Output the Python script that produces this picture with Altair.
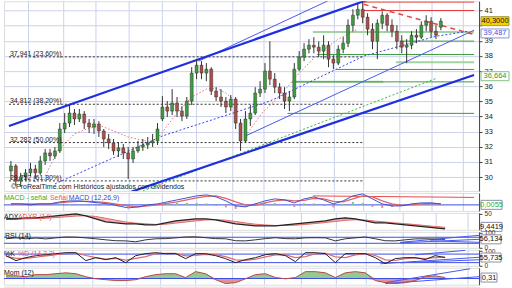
import altair as alt
import pandas as pd

# ---------------- price data (one candle per slot) ----------------
opens = [30.41, 30.74, 29.75, 30.02, 30.28, 30.54, 30.28, 31.07, 31.60, 31.40,
         31.73, 33.18, 33.57, 34.23, 33.84, 34.17, 33.57, 33.31, 33.51, 33.05,
         32.52, 32.26, 31.73, 31.93, 31.60, 31.20, 31.73, 31.99, 32.12, 32.26,
         32.39, 33.84, 34.63, 34.36, 34.89, 34.36, 34.03, 35.02, 36.87, 37.39,
         36.87, 37.13, 35.68, 35.29, 35.02, 34.63, 35.15, 33.57, 32.39, 33.84,
         34.23, 35.55, 35.81, 37.00, 36.47, 35.94, 35.55, 35.02, 35.29, 37.13,
         37.92, 38.45, 38.71, 38.58, 38.32, 38.71, 37.79, 37.53, 38.45, 38.84,
         40.03, 40.69, 41.08, 40.56, 39.77, 38.97, 40.16, 40.69, 40.03, 39.63,
         38.97, 38.58, 38.71, 39.37, 39.24, 40.03, 40.29, 39.63, 39.90]
closes = [30.74, 29.75, 30.02, 30.28, 30.54, 30.28, 31.07, 31.60, 31.40, 31.73,
          33.18, 33.57, 34.23, 33.84, 34.17, 33.57, 33.31, 33.51, 33.05, 32.52,
          32.26, 31.73, 31.93, 31.60, 31.20, 31.73, 31.99, 32.12, 32.26, 32.39,
          33.18, 34.63, 34.36, 34.89, 34.36, 34.03, 35.02, 36.87, 37.39, 36.87,
          37.13, 35.68, 35.29, 35.02, 34.63, 35.15, 33.57, 32.39, 33.84, 34.23,
          35.55, 35.81, 37.00, 36.47, 35.94, 35.55, 35.02, 35.29, 37.13, 37.92,
          38.45, 38.71, 38.58, 38.32, 38.71, 37.79, 37.53, 38.45, 38.84, 40.03,
          40.69, 41.08, 40.56, 39.77, 38.97, 40.16, 40.69, 40.03, 39.63, 38.97,
          38.58, 38.71, 39.37, 39.24, 40.03, 40.29, 39.63, 39.37, 40.30]
highs = [31.07, 30.87, 30.28, 30.54, 30.94, 30.81, 31.40, 31.86, 31.86, 31.99,
         33.57, 34.23, 34.76, 34.50, 34.50, 34.36, 33.84, 33.84, 33.70, 33.18,
         32.85, 32.52, 32.32, 32.19, 31.99, 31.99, 32.39, 32.52, 32.65, 32.85,
         33.57, 35.35, 35.02, 35.81, 35.29, 34.69, 35.29, 37.26, 37.79, 37.66,
         37.53, 37.26, 35.94, 35.81, 35.29, 35.42, 35.29, 33.84, 34.36, 34.76,
         35.94, 36.34, 37.53, 38.97, 36.87, 36.21, 35.94, 35.68, 37.53, 38.32,
         38.84, 39.11, 39.24, 38.97, 39.37, 38.97, 38.05, 38.71, 39.24, 40.42,
         41.08, 41.48, 41.60, 40.82, 40.16, 40.42, 40.95, 40.82, 40.42, 40.03,
         39.37, 39.11, 39.63, 39.77, 40.29, 40.69, 40.56, 40.03, 40.50]
lows = [29.88, 29.42, 29.36, 29.75, 30.08, 29.88, 30.15, 30.81, 31.07, 31.20,
        31.60, 32.91, 33.31, 33.44, 33.64, 33.18, 32.91, 32.85, 32.65, 31.99,
        31.86, 31.47, 31.33, 31.20, 29.88, 30.94, 31.60, 31.73, 31.86, 31.99,
        32.12, 33.70, 33.97, 34.10, 33.97, 33.70, 33.84, 34.76, 36.47, 36.47,
        36.34, 35.42, 35.02, 34.63, 34.23, 34.36, 33.18, 31.73, 32.26, 33.38,
        34.10, 35.29, 35.55, 36.08, 35.55, 35.15, 34.50, 34.36, 35.15, 37.00,
        37.66, 38.18, 38.18, 37.92, 37.79, 37.26, 37.13, 37.39, 38.18, 38.58,
        39.63, 40.42, 40.16, 39.37, 38.45, 37.79, 39.77, 39.63, 39.24, 38.45,
        38.18, 37.53, 38.45, 38.84, 39.11, 39.63, 39.24, 39.11, 39.70]

month_lines = [3.6, 10.8, 17.4, 24.2, 31.0, 38.0, 45.4, 51.8, 59.2, 66.2, 72.2, 79.6, 86.2, 92.6]
price_ticks = [30, 31, 32, 33, 34, 35, 36, 37, 38, 39, 40, 41]

fib_levels = [37.941, 34.812, 32.282, 29.752]
fib_labels = ["37,941 (23,60%)", "34,812 (38,20%)", "32,282 (50,00%)", "29,752 (61,80%)"]
fib_start, fib_end = -0.4, 72.2

# straight drawn lines: [x0, price0, x1, price1]
blue_thick = [[-0.4, 33.38, 83.8, 42.93], [24.6, 29.03, 94.8, 36.74]]
blue_thin = [[38.4, 37.66, 67.0, 41.96], [48.0, 32.72, 94.8, 39.70]]
green_dotted = [[27.0, 29.09, 87.2, 36.54]]
red_dashed = [[72.2, 41.41, 94.6, 39.44]]
red_flat = [[72.2, 41.00, 94.8, 41.00], [72.2, 41.56, 94.8, 41.56]]
green_light = [[61.8, 39.59, 94.8, 39.59], [78.8, 37.59, 94.8, 37.59], [57.6, 36.29, 76.2, 36.29]]
green_solid = [[79.6, 38.98, 94.8, 38.98], [62.8, 38.10, 94.8, 38.10], [66.6, 37.11, 94.8, 37.11],
               [57.6, 36.29, 94.8, 36.29], [56.6, 34.21, 94.8, 34.21]]

# dotted curves
blue_curve_x = [9.0, 31.0, 53.0, 72.2, 87.0, 93.6]
blue_curve_p = [29.55, 32.72, 35.02, 37.99, 39.30, 39.63]
red_arc_a_x = [7.0, 9.6, 13.0, 16.0, 18.4, 21.0, 24.0, 27.6]
red_arc_a_p = [30.08, 31.73, 32.85, 33.24, 33.38, 33.05, 32.65, 32.39]
red_arc_b_x = [30.4, 34.0, 37.0, 40.0, 42.0, 44.0, 46.0]
red_arc_b_p = [32.72, 34.23, 35.29, 35.81, 35.88, 35.55, 35.02]
red_arc_c_x = [48.0, 51.4, 55.0, 59.0, 63.0, 67.0, 71.0]
red_arc_c_p = [32.72, 34.23, 35.35, 36.87, 38.18, 39.11, 39.77]

# ---------------- indicator data (every second slot) ----------------
macd = [0.1, 0.1, 0, 0.1, 0.1, 0.3, 0.4, 0.4, 0.3, 0.2,
        0.1, -0.1, -0.3, -0.2, 0, 0.1, 0.3, 0.5, 0.7, 0.9,
        1.0, 0.8, 0.4, -0.1, -0.2, 0.1, 0.4, 0.6, 0.5, 0.2,
        0.6, 0.8, 0.5, 0.1, 0.4, 0.9, 1.1, 0.6, 0.1, -0.1,
        -0.1, 0.1, 0.2, 0.2, 0.1]
signal = [0.1, 0.1, 0.1, 0.1, 0.1, 0.2, 0.3, 0.35, 0.35, 0.3,
          0.2, 0.05, -0.1, -0.2, -0.1, 0, 0.15, 0.3, 0.5, 0.7,
          0.85, 0.9, 0.65, 0.3, 0, -0.05, 0.2, 0.4, 0.5, 0.4,
          0.45, 0.65, 0.6, 0.35, 0.3, 0.6, 0.9, 0.8, 0.4, 0.1,
          -0.05, 0, 0.1, 0.15, 0.1]
adx = [36.5, 36.5, 39.2, 39.2, 41.9, 44.6, 47.3, 50, 44.6, 36.5,
       28.4, 25.7, 23, 23, 20.3, 20.3, 25.7, 31.1, 33.8, 36.5,
       36.5, 33.8, 28.4, 23, 20.3, 17.6, 17.6, 17.6, 20.3, 23,
       25.7, 28.4, 31.1, 36.5, 39.2, 36.5, 31.1, 25.7, 25.7, 23,
       20.3, 17.6, 14.9, 12.2, 9.44]
adxr = [35, 35.5, 36.5, 37.5, 38.5, 40, 42, 44, 45, 43,
        38, 33, 28, 25, 23, 21.5, 22, 25, 28, 31,
        33.5, 34.5, 33, 29.5, 25.5, 22, 20, 18.5, 18.5, 19.5,
        21.5, 24, 26.5, 29.5, 32.5, 34, 33.5, 30.5, 28, 25.5,
        23.5, 21, 18.5, 16, 13.5]
rsi = [60, 66, 60, 65, 59, 66, 72, 71, 66, 60,
       53, 47, 46, 40, 53, 60, 61, 66, 72, 73,
       67, 61, 60, 47, 46, 53, 61, 67, 61, 60,
       66, 67, 66, 46, 60, 66, 72, 60, 47, 46,
       53, 59, 60, 58, 56.1]
stoch_k = [69, 34, 55, 69, 76, 83, 90, 90, 34, 55,
           41, 55, 20, 69, 83, 90, 83, 83, 48, 83,
           83, 69, 48, 20, 41, 55, 76, 83, 69, 27,
           90, 90, 83, 20, 83, 83, 83, 55, 13, 48,
           55, 55, 41, 69, 55.7]
stoch_d = [65, 50, 50, 58, 68, 76, 84, 88, 70, 55,
           45, 50, 38, 50, 62, 82, 86, 85, 68, 70,
           78, 76, 62, 40, 36, 44, 60, 74, 74, 55,
           62, 82, 86, 60, 55, 74, 83, 70, 40, 35,
           48, 54, 48, 55, 58]
mom = [0.9, 0.9, 0.6, 1.3, 1.3, 1.6, 1.9, 1.6, 0.6, -0.1,
       -0.4, -0.7, -0.7, -0.4, 0.6, 1.3, 1.6, 1.6, 0.3, 2.3,
       1.6, -0.4, -1.7, -1.4, -0.1, 1.3, 1.6, 0.3, -0.1, 0.3,
       2.3, 2.3, 1.9, 0.3, 1.9, 2.3, 1.9, -0.7, -1.4, -1.7,
       -1.4, -0.7, 0.6, 0.9, 0.31]

macd_red_line = [[61.8, 0.9, 94.8, 0.75]]
rsi_trend = [[79.0, 36.4, 94.8, 82.8], [79.0, 33.1, 94.8, 56.3], [85.0, 46.4, 94.8, 36.4]]
k_trend = [[75.0, 12.0, 94.8, 57.5], [82.0, 75.0, 92.0, 106.0], [79.0, 19.0, 94.8, 40.0]]
mom_trend = [[76.0, -1.4, 93.0, 3.27], [76.0, -1.73, 94.8, 0.6]]

# ---------------- styling constants ----------------
FONT = "Liberation Sans"
GRID = "#cbd2ea"
BLUE = "#1f2fe0"
REFBLUE = "#3b4de6"
XDOM = [-0.4, 94.8]
W = 476


def xq(field):
    return alt.X(f"{field}:Q", scale=alt.Scale(domain=XDOM, nice=False, zero=False), axis=None, title=None)


def seg_df(rows):
    return pd.DataFrame(rows, columns=["x0", "y0", "x1", "y1"])


candles = pd.DataFrame({"i": list(range(len(opens))), "o": opens, "h": highs, "l": lows, "c": closes})
candles["up"] = candles["c"] >= candles["o"]
months = pd.DataFrame({"m": month_lines})

# ---------------- main price panel ----------------
YS = alt.Scale(domain=[29.09, 41.61], nice=False, zero=False)
YAX = alt.Axis(orient="right", values=price_ticks, grid=True, gridColor=GRID, labelFontSize=7.5,
               labelColor="#222", labelFont=FONT, tickSize=3, tickColor="#444", domainColor="#444",
               labelPadding=2, title=None,
               labelExpr="datum.value == 40 ? '' : datum.label")


def ym(field):
    return alt.Y(f"{field}:Q", scale=YS, axis=YAX, title=None)


def rules(rows, yfun, **mk):
    return alt.Chart(seg_df(rows)).mark_rule(clip=True, **mk).encode(
        x=xq("x0"), x2="x1:Q", y=yfun("y0"), y2="y1:Q")


vgrid = alt.Chart(months).mark_rule(color=GRID, strokeWidth=1).encode(x=xq("m"))

fib = pd.DataFrame({"lvl": fib_levels, "lab": fib_labels, "x0": fib_start, "x1": fib_end})
fib_rules = alt.Chart(fib).mark_rule(color="#333", strokeDash=[2, 2], strokeWidth=1).encode(
    x=xq("x0"), x2="x1:Q", y=ym("lvl"))
fib_text = alt.Chart(fib).mark_text(align="left", baseline="alphabetic", fontSize=7, font=FONT,
                                    color="#222", dx=1, dy=-1).encode(x=xq("x0"), y=ym("lvl"), text="lab:N")

curves = []
for k, (xs, ps) in enumerate([(red_arc_a_x, red_arc_a_p), (red_arc_b_x, red_arc_b_p), (red_arc_c_x, red_arc_c_p)]):
    for a, b in zip(xs, ps):
        curves.append({"seg": k, "x": a, "p": b})
red_curves = alt.Chart(pd.DataFrame(curves)).mark_line(
    clip=True, color="#e47070", strokeDash=[1.5, 2], strokeWidth=1).encode(
    x=xq("x"), y=ym("p"), detail="seg:N")
blue_curve = alt.Chart(pd.DataFrame({"x": blue_curve_x, "p": blue_curve_p})).mark_line(
    clip=True, color="#3444ee", strokeDash=[2, 2], strokeWidth=1).encode(x=xq("x"), y=ym("p"))

wicks = alt.Chart(candles).mark_rule(color="#333", strokeWidth=1).encode(x=xq("i"), y=ym("l"), y2="h:Q")
bodies = alt.Chart(candles).mark_bar(size=3, orient="vertical", stroke="#1e1e1e", strokeWidth=0.4).encode(
    x=xq("i"), y=ym("o"), y2="c:Q",
    fill=alt.Fill("up:N", scale=alt.Scale(domain=[True, False], range=["#3e9c3e", "#a8504c"]), legend=None))

copyright_text = alt.Chart(pd.DataFrame({"t": ["©ProRealTime.com Históricos ajustados con dividendos"]})).mark_text(
    align="left", baseline="middle", fontSize=7, font=FONT, color="#222").encode(
    x=alt.value(7), y=alt.value(186), text="t:N")

main_boxes = pd.DataFrame({
    "v": [40.30, 39.487, 36.664],
    "t": ["40,3000", "39,487", "36,664"],
    "bg": ["#f4d000", "#ffffff", "#ffffff"],
    "bd": ["#a89a40", "#8c96c8", "#86c086"],
    "fg": ["#111111", "#3c55d8", "#2f9a2f"],
})
BW, BH = 28, 9
box_shape = f"M-1,{-BH / BW:.3f}H1V{BH / BW:.3f}H-1Z"
main_box_bg = alt.Chart(main_boxes).mark_point(shape=box_shape, size=BW * BW, filled=True, opacity=1,
                                               strokeWidth=1).encode(
    x=alt.value(492), y=ym("v"), fill=alt.Fill("bg:N", scale=None), stroke=alt.Stroke("bd:N", scale=None))
main_box_txt = alt.Chart(main_boxes).mark_text(fontSize=7.5, font=FONT, align="center", baseline="middle").encode(
    x=alt.value(492), y=ym("v"), text="t:N", color=alt.Color("fg:N", scale=None))

main = alt.layer(
    vgrid,
    fib_rules,
    rules(green_light, ym, color="#a3d3a3", strokeWidth=2),
    rules(green_solid, ym, color="#3c9c3c", strokeWidth=1),
    rules(red_flat, ym, color="#e03a3a", strokeWidth=1),
    rules(green_dotted, ym, color="#33b833", strokeDash=[2, 2], strokeWidth=1),
    blue_curve,
    red_curves,
    rules(blue_thin, ym, color="#4858f0", strokeWidth=1),
    rules(blue_thick, ym, color=BLUE, strokeWidth=2.2),
    rules(red_dashed, ym, color="#e04848", strokeDash=[5, 4], strokeWidth=1.5),
    wicks,
    bodies,
    fib_text,
    copyright_text,
    main_box_bg,
    main_box_txt,
).properties(width=W, height=190)

# ---------------- indicator panels ----------------
ind = pd.DataFrame({"i": [2 * k for k in range(len(macd))], "macd": macd, "sig": signal, "adx": adx,
                    "adxr": adxr, "rsi": rsi, "k": stoch_k, "d": stoch_d, "mom": mom})
ind["hist"] = ind["macd"] - ind["sig"]
ind["hpos"] = ind["hist"] >= 0
ind["mpos"] = ind["mom"].clip(lower=0)
ind["mneg"] = ind["mom"].clip(upper=0)


def panel_y(domain, values):
    sc = alt.Scale(domain=domain, nice=False, zero=False)
    ax = alt.Axis(orient="right", values=values, grid=False, labelFontSize=6.5, labelFont=FONT, labelColor="#333",
                  tickSize=3, tickColor="#444", domainColor="#444", labelPadding=2, title=None,
                  labelOverlap=False)

    def f(field):
        return alt.Y(f"{field}:Q", scale=sc, axis=ax, title=None)
    return f


def hline(yf, vals, color=REFBLUE):
    return alt.Chart(pd.DataFrame({"h": vals})).mark_rule(color=color, strokeWidth=1).encode(y=yf("h"))


def legend(items, ypx):
    layers = []
    for txt, col, xpx in items:
        layers.append(alt.Chart(pd.DataFrame({"t": [txt]})).mark_text(
            align="left", baseline="middle", fontSize=7, font=FONT, color=col).encode(
            x=alt.value(xpx), y=alt.value(ypx), text="t:N"))
    return layers


def vbox(yf, val, txt, fg, w, shift=0):
    shape = f"M-1,{-BH / w:.3f}H1V{BH / w:.3f}H-1Z"
    d = pd.DataFrame({"v": [val], "t": [txt]})
    xpx = 478 + w / 2
    bg = alt.Chart(d).mark_point(shape=shape, size=w * w, filled=True, opacity=1, fill="#ffffff",
                                 stroke="#8a90a8", strokeWidth=1, yOffset=shift).encode(x=alt.value(xpx), y=yf("v"))
    tx = alt.Chart(d).mark_text(fontSize=7.5, font=FONT, align="center", baseline="middle", color=fg,
                                yOffset=shift).encode(x=alt.value(xpx), y=yf("v"), text="t:N")
    return [bg, tx]


base = alt.Chart(ind)

# MACD
ymacd = panel_y([-0.6, 1.2], [])
macd_panel = alt.layer(
    vgrid,
    hline(ymacd, [0]),
    rules(macd_red_line, ymacd, color="#e84a4a", strokeWidth=1),
    base.mark_bar(size=2, orient="vertical").encode(
        x=xq("i"), y=ymacd("hist"), y2=alt.datum(0),
        color=alt.Color("hpos:N", scale=alt.Scale(domain=[True, False], range=["#7ccc7c", "#e08a8a"]), legend=None)),
    base.mark_line(color="#e06464", strokeWidth=1.2).encode(x=xq("i"), y=ymacd("sig")),
    base.mark_line(color="#4050d4", strokeWidth=1).encode(x=xq("i"), y=ymacd("macd")),
    *legend([("MACD - señal", "#2fae2f", 0), ("Señal", "#e05a5a", 46), ("MACD (12,26,9)", "#3a48c8", 65)], 5),
    *vbox(ymacd, 0.0055, "0,0055", "#2fae2f", 21),
).properties(width=W, height=18)

# ADX
yadx = panel_y([6.8, 52.7], [50])
adx_panel = alt.layer(
    vgrid,
    base.mark_area(color="#f0a4a4", opacity=0.9).encode(x=xq("i"), y=yadx("adx"), y2="adxr:Q"),
    base.mark_line(color="#e06a6a", strokeWidth=1).encode(x=xq("i"), y=yadx("adxr")),
    base.mark_line(color="#222", strokeWidth=1.2).encode(x=xq("i"), y=yadx("adx")),
    *legend([("ADX", "#111", 0), ("ADXR (14)", "#e05a5a", 14)], 4),
    *vbox(yadx, 9.4419, "9,4419", "#111", 21, shift=-2),
).properties(width=W, height=17)

# RSI
yrsi = panel_y([0, 106], [0, 100])
rsi_panel = alt.layer(
    vgrid,
    hline(yrsi, [70, 30]),
    rules(rsi_trend, yrsi, color="#4858f0", strokeWidth=1),
    base.mark_line(color="#333", strokeWidth=1).encode(x=xq("i"), y=yrsi("rsi")),
    *legend([("RSI (14)", "#111", 1)], 4),
    *vbox(yrsi, 56.134, "56,134", "#111", 20),
).properties(width=W, height=16)

# Stochastic
yk = panel_y([-2, 110], [0, 100])
k_panel = alt.layer(
    vgrid,
    hline(yk, [80, 20]),
    rules(k_trend, yk, color="#4858f0", strokeWidth=1),
    base.mark_line(color="#e06a6a", strokeWidth=1.2).encode(x=xq("i"), y=yk("d")),
    base.mark_line(color="#222", strokeWidth=1).encode(x=xq("i"), y=yk("k")),
    *legend([("%K", "#111", 0), ("%D (14,3,3)", "#e05a5a", 14)], 4),
    *vbox(yk, 55.735, "55,735", "#111", 20),
).properties(width=W, height=16)

# Momentum
ymom = panel_y([-2.1, 3.6], [])
mom_panel = alt.layer(
    vgrid,
    base.mark_area(color="#86c486", opacity=0.9).encode(x=xq("i"), y=ymom("mpos"), y2=alt.datum(0)),
    base.mark_area(color="#d88888", opacity=0.9).encode(x=xq("i"), y=ymom("mneg"), y2=alt.datum(0)),
    hline(ymom, [0]),
    rules(mom_trend, ymom, color="#4858f0", strokeWidth=1),
    base.mark_line(color="#b84848", strokeWidth=1).encode(x=xq("i"), y=ymom("mom")),
    *legend([("Mom (12)", "#111", 0)], 5),
    *vbox(ymom, 0.31, "0,31", "#111", 16),
).properties(width=W, height=17)

extra_panel = alt.layer(vgrid).properties(width=W, height=12)

chart = alt.vconcat(main, macd_panel, adx_panel, rsi_panel, k_panel, mom_panel, extra_panel,
                    spacing=2, bounds="flush").properties(
    padding={"left": 3, "top": 0, "right": 0, "bottom": 0}
).configure_view(stroke="#4a4a4a", strokeWidth=1, fill="#e7ebf7").configure(background="white")

chart.save("out.html", embed_options={"renderer": "svg", "actions": False})
